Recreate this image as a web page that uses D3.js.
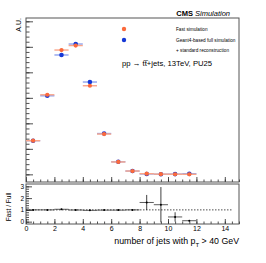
<!DOCTYPE html>
<html><head><meta charset="utf-8">
<script src="https://cdn.jsdelivr.net/npm/d3@7"></script>
<style>body{margin:0;background:#fff} svg{display:block} text{font-family:"Liberation Sans",Arial,sans-serif;fill:#000}</style>
</head><body>
<svg id="c" width="266" height="263"></svg>
<script>
// ---- data ----
const binLow  = [0,1,2,3,4,5,6,7,8,9,10,11];
const binHigh = [1,2,3,4,5,6,7,8,9,10,11,12];
const fastValues = [0.066, 0.156, 0.2437, 0.2525, 0.1737, 0.079, 0.0243, 0.0065, 0.0013, 0.0004, 0.0002, 0.0001];
const fullValues = [0.066, 0.154, 0.2340, 0.2555, 0.1810, 0.080, 0.0246, 0.0065, 0.0008, 0.0003, 0.0005, 0.0012];
const ratioValues = [1.00, 1.00, 1.05, 0.99, 0.96, 0.98, 0.98, 1.00, 1.63, 1.44, 0.40, 0.08];
const ratioErrors = [0.01, 0.01, 0.01, 0.01, 0.01, 0.015, 0.03, 0.06, 0.64, 1.5, 0.40, 0.05];
const xTickLabels = [0,2,4,6,8,10,12,14];
const ratioTickLabels = [0,1,2,3];
const legendLabels = ["Fast simulation", "Geant4-based full simulation", "+ standard reconstruction"];
const processLabel = ["pp \u2192 t", "t\u0305", "+jets, 13TeV, PU25"];

const svg = d3.select("#c");
const L = 26, R = 239, T = 18, B = 182, RT = 184, RB = 224;
const x = d3.scaleLinear().domain([0,15]).range([L,R]);
const y = d3.scaleLinear().domain([-0.015,0.3065]).range([B,T]);
const yr = d3.scaleLinear().domain([-0.2,3.2]).range([RB,RT]);

const ORANGE = "#fb6a3c", ORANGE_L = "#f9a58a", BLUE = "#1538d6", BLUE_L = "#8ea2ee";
const tickCol = "#222";

function styleAxis(g){ g.select(".domain").remove(); g.selectAll("line").attr("stroke",tickCol).attr("stroke-width",0.8); }

// main y ticks (inward)
svg.append("g").attr("transform",`translate(${L},0)`)
  .call(d3.axisLeft(y).tickValues(d3.range(0,0.3001,0.01)).tickSizeInner(-3.5).tickSizeOuter(0).tickFormat(""))
  .call(styleAxis);
svg.append("g").attr("transform",`translate(${L},0)`)
  .call(d3.axisLeft(y).tickValues(d3.range(0,0.3001,0.05)).tickSizeInner(-7).tickSizeOuter(0).tickFormat(""))
  .call(styleAxis);
// main x ticks
svg.append("g").attr("transform",`translate(0,${B})`)
  .call(d3.axisBottom(x).tickValues(d3.range(0,15.01,0.5)).tickSizeInner(-2.5).tickSizeOuter(0).tickFormat(""))
  .call(styleAxis);
svg.append("g").attr("transform",`translate(0,${B})`)
  .call(d3.axisBottom(x).tickValues(xTickLabels).tickSizeInner(-5).tickSizeOuter(0).tickFormat(""))
  .call(styleAxis);
// ratio y ticks
svg.append("g").attr("transform",`translate(${L},0)`)
  .call(d3.axisLeft(yr).tickValues(d3.range(0,3.01,0.2)).tickSizeInner(-3).tickSizeOuter(0).tickFormat(""))
  .call(styleAxis);
const ry = svg.append("g").attr("transform",`translate(${L},0)`)
  .call(d3.axisLeft(yr).tickValues(ratioTickLabels).tickSizeInner(-6).tickSizeOuter(0).tickFormat(d3.format("d")))
  .call(styleAxis);
ry.selectAll("text").attr("font-size",6.5).attr("fill","#000").attr("x",-2).style("font-family","Liberation Sans, Arial");
// ratio x ticks + labels
svg.append("g").attr("transform",`translate(0,${RB})`)
  .call(d3.axisBottom(x).tickValues(d3.range(0,15.01,0.5)).tickSizeInner(-2.5).tickSizeOuter(0).tickFormat(""))
  .call(styleAxis);
const rx = svg.append("g").attr("transform",`translate(0,${RB})`)
  .call(d3.axisBottom(x).tickValues(xTickLabels).tickSizeInner(-5).tickSizeOuter(0).tickFormat(d3.format("d")))
  .call(styleAxis);
rx.selectAll("text").attr("font-size",7).attr("y",2.5).attr("fill","#000").style("font-family","Liberation Sans, Arial");

// frames
svg.append("rect").attr("x",L).attr("y",T).attr("width",R-L).attr("height",B-T).attr("fill","none").attr("stroke","#555").attr("stroke-width",1);
svg.append("rect").attr("x",L).attr("y",RT).attr("width",R-L).attr("height",RB-RT).attr("fill","none").attr("stroke","#555").attr("stroke-width",1);

// main series
const idx = d3.range(binLow.length);
function series(vals, col, colL, r){
  const g = svg.append("g");
  g.selectAll("line").data(idx).join("line")
    .attr("x1",i=>x(binLow[i])).attr("x2",i=>x(binHigh[i]))
    .attr("y1",i=>y(vals[i])).attr("y2",i=>y(vals[i]))
    .attr("stroke",colL).attr("stroke-width",1.4);
  g.selectAll("circle").data(idx).join("circle")
    .attr("cx",i=>x((binLow[i]+binHigh[i])/2)).attr("cy",i=>y(vals[i]))
    .attr("r",r).attr("fill",col);
}
series(fullValues, BLUE, BLUE_L, 2.3);
series(fastValues, ORANGE, ORANGE_L, 2.1);

// ratio
svg.append("line").attr("x1",x(0)).attr("x2",x(14.5)).attr("y1",yr(1)).attr("y2",yr(1))
  .attr("stroke","#000").attr("stroke-width",0.7).attr("stroke-dasharray","1.5,1.5");
const rg = svg.append("g");
rg.selectAll("line.h").data(idx).join("line").attr("class","h")
  .attr("x1",i=>x(binLow[i])).attr("x2",i=>x(binHigh[i]))
  .attr("y1",i=>yr(ratioValues[i])).attr("y2",i=>yr(ratioValues[i]))
  .attr("stroke","#333").attr("stroke-width",0.8);
rg.selectAll("line.v").data(idx).join("line").attr("class","v")
  .attr("x1",i=>x((binLow[i]+binHigh[i])/2)).attr("x2",i=>x((binLow[i]+binHigh[i])/2))
  .attr("y1",i=>Math.min(RB,yr(ratioValues[i]-ratioErrors[i]))).attr("y2",i=>Math.max(RT,yr(ratioValues[i]+ratioErrors[i])))
  .attr("stroke","#111").attr("stroke-width",0.8);
rg.selectAll("circle").data(idx).join("circle")
  .attr("cx",i=>x((binLow[i]+binHigh[i])/2)).attr("cy",i=>yr(ratioValues[i]))
  .attr("r",1).attr("fill","#000");

// texts
svg.append("text").attr("transform","translate(21,18) rotate(-90)").attr("text-anchor","end")
  .attr("font-size",7).text("A.U.");
svg.append("text").attr("transform","translate(11,207) rotate(-90)").attr("text-anchor","middle")
  .attr("font-size",6.5).text("Fast / Full");
const t = svg.append("text").attr("x",R).attr("y",244).attr("text-anchor","end").attr("font-size",8.8);
t.append("tspan").text("number of jets with p");
t.append("tspan").attr("font-size",6).attr("dy",2.5).text("T");
t.append("tspan").attr("dy",-2.5).text(" > 40 GeV");

const h = svg.append("text").attr("x",230).attr("y",15.5).attr("text-anchor","end").attr("font-size",7.5);
h.append("tspan").attr("font-weight","bold").text("CMS");
h.append("tspan").attr("font-style","italic").text(" Simulation");

// legend
const legCols = [ORANGE, BLUE];
svg.selectAll("circle.leg").data([0,1]).join("circle").attr("class","leg")
  .attr("cx",124).attr("cy",d=>29+d*11).attr("r",2.2).attr("fill",d=>legCols[d]);
svg.selectAll("text.leg").data(legendLabels).join("text").attr("class","leg")
  .attr("x",176).attr("y",(d,i)=>30.8+i*10.8).attr("font-size",4.7).text(d=>d);
const pl = svg.append("text").attr("x",122).attr("y",66).attr("font-size",7.7);
pl.selectAll("tspan").data(processLabel).join("tspan").text(d=>d);
</script>
</body></html>
